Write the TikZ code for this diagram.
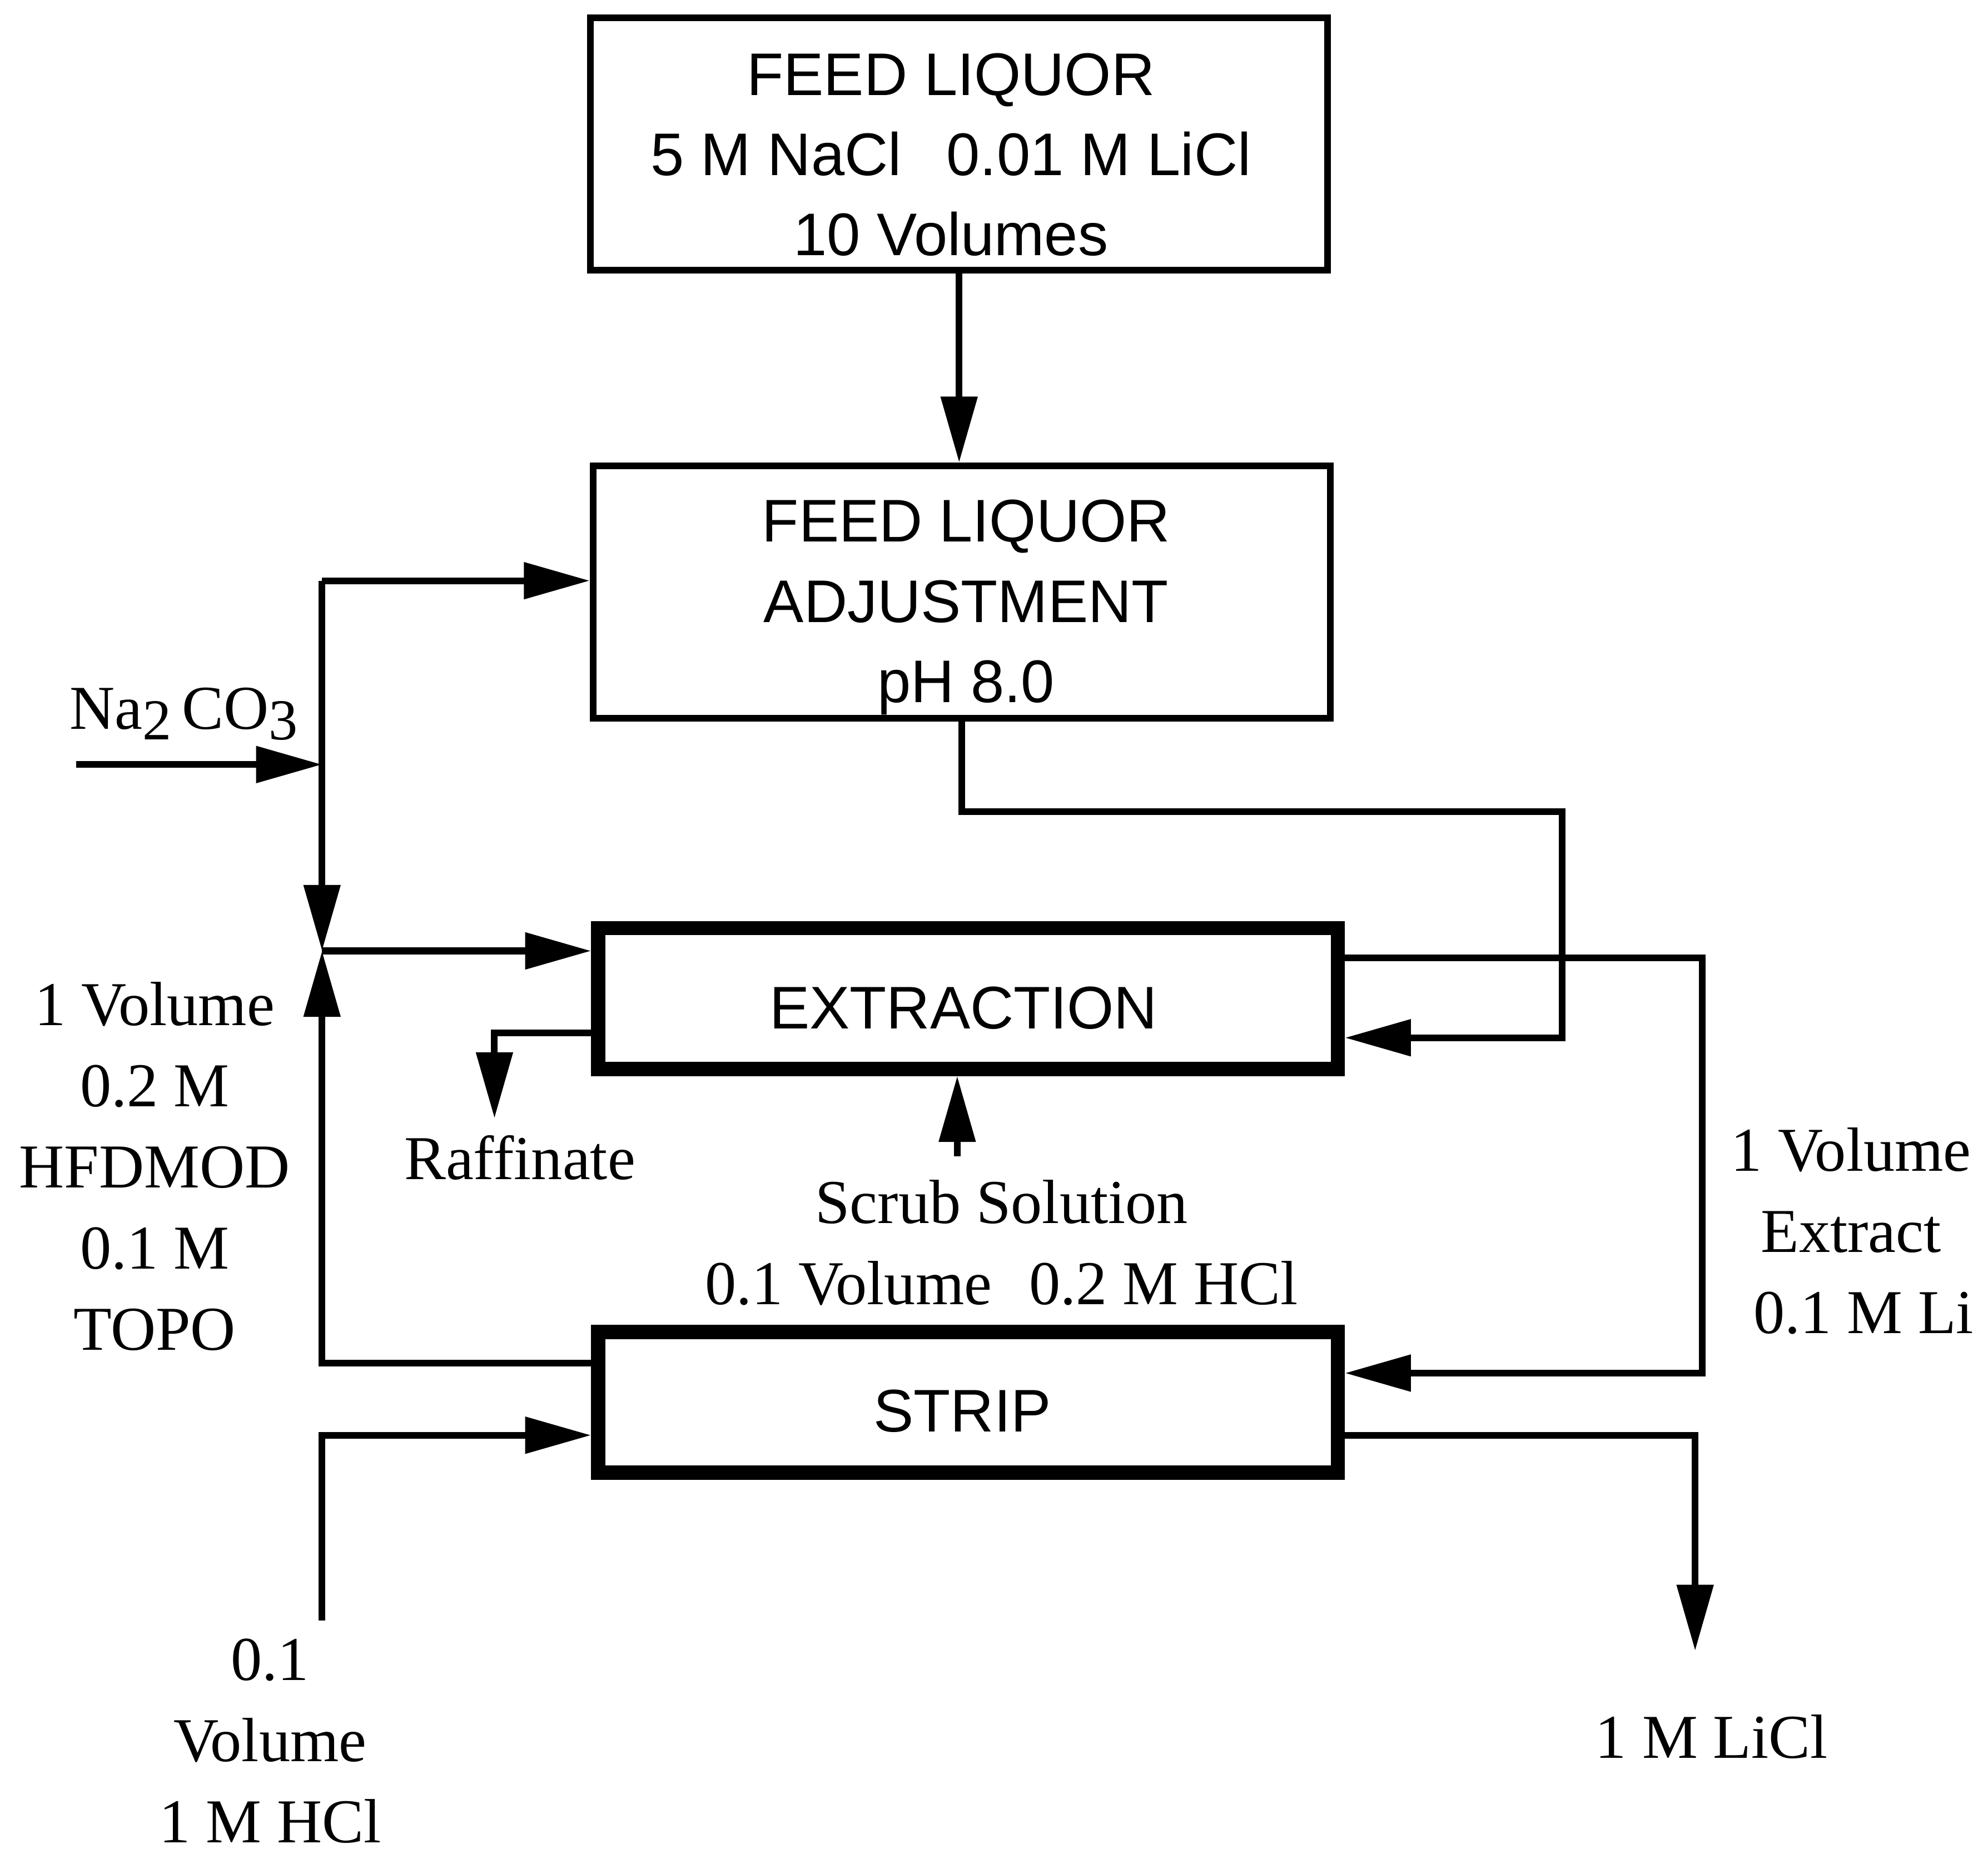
\documentclass[tikz,border=0pt]{standalone}
\usepackage{fontspec}
\setmainfont{Liberation Serif}
\newfontfamily\boxfont{Liberation Sans}
\usetikzlibrary{arrows.meta,calc}
\begin{document}
\begin{tikzpicture}[x=0.01cm,y=-0.01cm,
  thinbox/.style={draw, line width=1.5pt, minimum width=5.81cm, minimum height=1.99cm, inner sep=0pt},
  thickbox/.style={draw, line width=3.2pt, minimum width=5.83cm, minimum height=1.11cm, inner sep=0pt},
  boxtxt/.style={font=\boxfont\fontsize{13.5}{18}\selectfont, align=center, inner sep=0pt},
  lbl/.style={font=\fontsize{14}{18.2}\selectfont, inner sep=0pt, align=center},
  flow/.style={line width=1.5pt},
  arr/.style={line width=1.5pt, -{Triangle[length=0.52cm,width=0.28cm]}},
]
\useasboundingbox (0,0) rectangle (1568,1462);

% boxes
\node[thinbox] (feed) at (756.5,113.5) {};
\node[boxtxt] (feedtxt) at (750,122) {FEED LIQUOR\\5 M NaCl\hspace{0.75em}0.01 M LiCl\\10 Volumes};
\node[thinbox] (adj) at (758.5,467) {};
\node[boxtxt] (adjtxt) at (762,479) {FEED LIQUOR\\ADJUSTMENT\\pH 8.0};
\node[thickbox] (ext) at (763.5,787.5) {};
\node[boxtxt] (exttxt) at (760,795) {EXTRACTION};
\node[thickbox] (strip) at (763.5,1106) {};
\node[boxtxt] (striptxt) at (759,1113) {STRIP};

% coordinates
\coordinate (tl) at (254,458);
\coordinate (jn) at (254,750);
\coordinate (na) at (60,603);
\coordinate (hcl) at (254,1278);
\coordinate (raf) at (390,882);
\coordinate (scr) at (755,912);
\coordinate (bendA) at (1232,640);
\coordinate (lic) at (1337,1302);

% connectors
\draw[arr] (feed.south) -- (feed.south |- adj.north);
\draw[arr] (adj.south) |- (bendA) |- ($(ext.east)+(0,31)$);
\draw[arr] ($(ext.east)+(0,-32)$) -| ($(strip.east)+(282,-23)$) -- ($(strip.east)+(0,-23)$);
\draw[arr] ($(strip.east)+(0,26)$) -| (lic);
\draw[arr] (tl) -- (tl -| adj.west);
\draw[arr] (tl) -- (jn);
\draw[arr] (na) -- (na -| jn);
\draw[arr] (jn) -- (jn -| ext.west);
\draw[arr] ($(strip.west)+(0,-31)$) -| (jn);
\draw[arr] (hcl) |- ($(strip.west)+(0,26)$);
\draw[arr] ($(ext.west)+(0,27)$) -| (raf);
\draw[arr] (scr) -- (scr |- ext.south);

% labels
\node[lbl] (nalbl) at (145,563) {Na{\fontsize{13}{13}\selectfont\raisebox{-0.4ex}{2}}\,CO{\fontsize{13}{13}\selectfont\raisebox{-0.4ex}{3}}};
\node[lbl] (orglbl) at (122,920) {1 Volume\\0.2 M\\HFDMOD\\0.1 M\\TOPO};
\node[lbl] (raflbl) at (410,913) {Raffinate};
\node[lbl] (scrlbl) at (790,980) {Scrub Solution\\0.1 Volume\hspace{0.6em}0.2 M HCl};
\node[lbl] (hcllbl) at (213,1373) {0.1\\Volume\\1 M HCl};
\node[lbl] (extlbl) at (1460,971) {1 Volume\\Extract\\\hspace{0.4em}0.1 M Li};
\node[lbl] (liclbl) at (1350,1370) {1 M LiCl};
\end{tikzpicture}
\end{document}
